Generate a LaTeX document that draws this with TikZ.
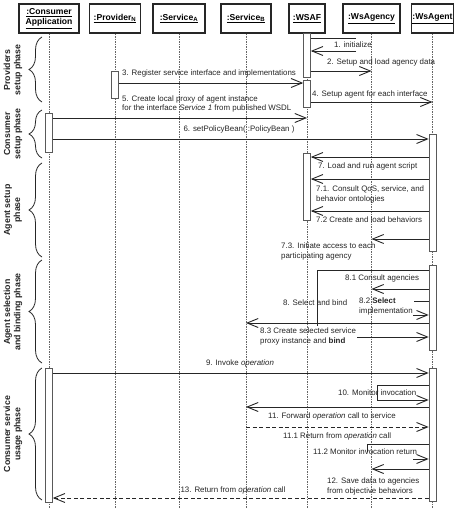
\documentclass[tikz,border=0pt]{standalone}
\usepackage{fontspec}
\setmainfont{Liberation Sans}
\usetikzlibrary{arrows.meta,decorations.pathreplacing}

\tikzset{
  lbl/.style={font=\fontsize{7.9}{9.1}\selectfont, inner sep=0pt, text=black!85},
  head/.style={draw=black!85, line width=1.3pt, fill=white, minimum height=29pt,
               inner sep=1pt, align=center, font=\fontsize{8.6}{10}\selectfont\bfseries},
  life/.style={draw=black!60, line width=0.4pt, dash pattern=on 1.5pt off 1pt},
  act/.style={draw=black!65, line width=0.6pt, fill=white, minimum width=7pt, inner sep=0pt},
  msg/.style={draw=black!85, line width=0.9pt, -{Straight Barb[length=11pt,width=9pt]}},
  ret/.style={msg, dash pattern=on 4pt off 2.5pt},
  seg/.style={draw=black!85, line width=0.9pt},
  phase/.style={draw=black!85, line width=0.8pt, decorate, decoration={brace,amplitude=13pt}},
  phaselbl/.style={rotate=90, align=center, inner sep=0pt,
                   font=\fontsize{8.8}{10.2}\selectfont\bfseries, text=black!85},
}

\begin{document}
\begin{tikzpicture}[x=1pt,y=-1pt]
\useasboundingbox (0,0) rectangle (453,508);
\fill[white] (0,0) rectangle (453,508);

% lifeline headers
\node[head, minimum width=60pt] (ca) at (49,18.5) {\underline{:Consumer}\\\underline{Application}};
\node[head, minimum width=51pt] (pn) at (115,18.5) {\underline{:Provider$_{\mathbf{N}}$}};
\node[head, minimum width=52pt] (sa) at (179,18.5) {\underline{:Service$_{\mathbf{A}}$}};
\node[head, minimum width=50pt] (sb) at (246,18.5) {\underline{:Service$_{\mathbf{B}}$}};
\node[head, minimum width=36pt] (wsaf) at (307,18.5) {\underline{:WSAF}};
\node[head, minimum width=57pt] (wsagency) at (371.5,18.5) {\underline{:WsAgency}};
\node[head, minimum width=40pt] (wsagent) at (432.5,18.5) {\underline{:WsAgent}};

% lifelines
\foreach \n in {ca,pn,sa,sb,wsaf,wsagency,wsagent}
  \draw[life] (\n.south) -- (\n |- 0,508);

% activation bars
\node[act, minimum height=39pt] (caA) at (49,132.5) {};
\node[act, minimum height=134pt] (caB) at (49,435) {};
\node[act, minimum height=27pt] (pnA) at (115,84.5) {};
\node[act, minimum height=44pt] (wsafA) at (307,55) {};
\node[act, minimum height=27pt] (wsafB) at (307,93.5) {};
\node[act, minimum height=67pt] (wsafC) at (307,186.5) {};
\node[act, minimum height=117pt] (wsagentA) at (432.5,192.5) {};
\node[act, minimum height=85pt] (wsagentB) at (432.5,307.5) {};
\node[act, minimum height=133pt] (wsagentC) at (432.5,434.5) {};

% phase braces
\draw[phase] (42,102) -- (42,37);
\draw[phase] (42,158) -- (42,110);
\draw[phase] (42,257) -- (42,163);
\draw[phase] (42,363) -- (42,260);
\draw[phase] (42,500) -- (42,368);
\node[phaselbl] (p1) at (13,70) {Providers\\setup phase};
\node[phaselbl] (p2) at (13,134) {Consumer\\setup phase};
\node[phaselbl] (p3) at (13,210) {Agent setup\\phase};
\node[phaselbl] (p4) at (13,312) {Agent selection\\and binding phase};
\node[phaselbl] (p5) at (13,434) {Consumer service\\usage phase};

% providers setup
\coordinate (i1) at (356,38);
\coordinate (i2) at (356,51);
\draw[seg] (wsafA.east |- i1) -- (i1);
\draw[msg] (i2) -- (wsafA.east |- i2);
\node[lbl, anchor=west] (t1) at (334,44.5) {1. initialize};

\draw[msg] (wsafA.east |- 0,71) -- (wsagency |- 0,71);
\node[lbl, anchor=west] (t2) at (327,62) {2. Setup and load agency data};

\draw[msg] (pnA.east |- 0,83) -- (wsafB.west |- 0,83);
\node[lbl, anchor=west] (t3) at (122,73) {3. Register service interface and implementations};

\draw[msg] (wsafB.east |- 0,102) -- (wsagent |- 0,102);
\node[lbl, anchor=west] (t4) at (312,94) {4. Setup agent for each interface};

% consumer setup
\draw[msg] (caA.east |- 0,118) -- (wsaf |- 0,118);
\node[lbl, anchor=west] (t5a) at (122,99.5) {5. Create local proxy of agent instance};
\node[lbl, anchor=west] (t5b) at (122,108.5) {for the interface \textit{Service 1} from published WSDL};

\draw[msg] (caA.east |- 0,139) -- (wsagentA.west |- 0,139);
\node[lbl] (t6) at (239,129.5) {6. setPolicyBean( :PolicyBean )};

% agent setup
\draw[msg] (wsagentA.west |- 0,157) -- (wsafC.east |- 0,157);
\node[lbl, anchor=west] (t7) at (318,166) {7. Load and run agent script};

\draw[msg] (wsagentA.west |- 0,179) -- (wsafC.east |- 0,179);
\node[lbl, anchor=north west, align=left] (t71) at (316,186) {7.1. Consult QoS, service, and\\behavior ontologies};

\draw[msg] (wsagentA.west |- 0,211) -- (wsafC.east |- 0,211);
\node[lbl, anchor=west] (t72) at (316,220) {7.2 Create and load behaviors};

\draw[msg] (wsagentA.west |- 0,239) -- (wsagency |- 0,239);
\node[lbl, anchor=north west, align=left] (t73) at (281,243) {7.3. Initiate access to each\\participating agency};

% agent selection and binding
\coordinate (s1) at (317,270);
\coordinate (s2) at (317,326);
\draw[seg] (wsagentB.west |- s1) -- (s1) -- (s2);
\node[lbl, anchor=west] (t8) at (283,303) {8. Select and bind};

\draw[msg] (wsagentB.west |- 0,289) -- (wsagency |- 0,289);
\node[lbl, anchor=west] (t81) at (345,278.5) {8.1 Consult agencies};

\coordinate (k1) at (414,301);
\coordinate (k2) at (413,315);
\draw[seg] (k1) -- (wsagentB.west |- k1);
\draw[msg] (k2) -- (wsagentB.west |- k2);
\node[lbl, anchor=north west, align=left] (t82) at (359,298) {8.2 \textbf{Select}\\implementation};

\draw[msg] (wsagentB.west |- 0,323) -- (sb |- 0,323);

\coordinate (b1) at (357,337);
\draw[msg] (b1) -- (wsagentB.west |- b1);
\node[lbl, anchor=north west, align=left] (t83) at (260,328) {8.3 Create selected service\\proxy instance and \textbf{bind}};

% consumer service usage
\draw[msg] (caB.east |- 0,373) -- (wsagentC.west |- 0,373);
\node[lbl] (t9) at (240,363.5) {9. Invoke \textit{operation}};

\coordinate (m1) at (377,385);
\coordinate (m2) at (377,400);
\draw[msg] (wsagentC.west |- m1) -- (m1) -- (m2) -- (wsagentC.west |- m2);
\node[lbl, anchor=west] (t10) at (338,393) {10. Monitor invocation};

\draw[msg] (wsagentC.west |- 0,407) -- (sb |- 0,407);
\node[lbl, anchor=west] (t11) at (268,416) {11. Forward \textit{operation} call to service};

\draw[ret] (sb |- 0,427) -- (wsagentC.west |- 0,427);
\node[lbl, anchor=west] (t111) at (283,436) {11.1 Return from \textit{operation} call};

\coordinate (r1) at (367,444);
\coordinate (r2) at (367,452);
\coordinate (r3) at (413,459);
\draw[seg] (wsagentC.west |- r1) -- (r1) -- (r2);
\draw[msg] (r3) -- (wsagentC.west |- r3);
\node[lbl, anchor=west] (t112) at (313,451.5) {11.2 Monitor invocation return};

\draw[msg] (wsagentC.west |- 0,469) -- (wsagency |- 0,469);
\node[lbl, anchor=north west, align=left] (t12) at (327,478) {12. Save data to agencies\\from objective behaviors};

\draw[ret] (wsagentC.west |- 0,498) -- (caB.east |- 0,498);
\node[lbl] (t13) at (233,490) {13. Return from \textit{operation} call};
\end{tikzpicture}
\end{document}
